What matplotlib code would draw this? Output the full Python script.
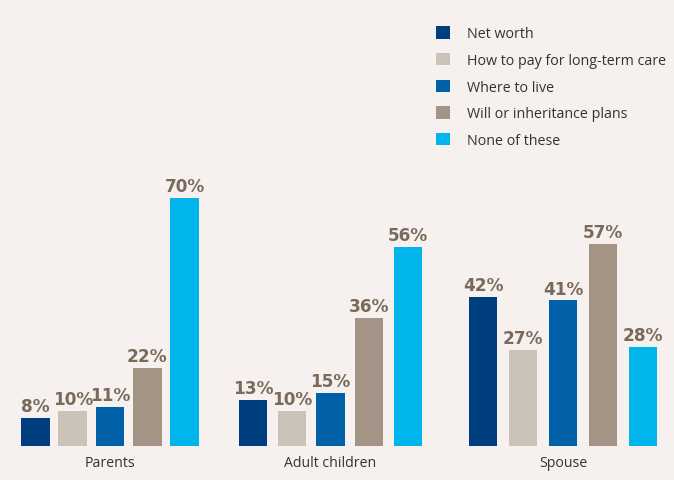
import matplotlib.pyplot as plt
from matplotlib.patches import Patch

plt.rcParams['font.family'] = ['Open Sans', 'DejaVu Sans']

groups = ['Parents', 'Adult children', 'Spouse']
topics = ['Net worth', 'How to pay for long-term care', 'Where to live',
          'Will or inheritance plans', 'None of these']
values = {
    'Net worth': [8, 13, 42],
    'How to pay for long-term care': [10, 10, 27],
    'Where to live': [11, 15, 41],
    'Will or inheritance plans': [22, 36, 57],
    'None of these': [70, 56, 28],
}
colors = ['#003f7f', '#cbc2b8', '#0060a8', '#a39486', '#00b5ec']

bg = '#f6f1ee'
label_color = '#7b6a5b'

# group centres and bar pitch, in pixels
group_centers = [110, 330.5, 563]
group_steps = [37.3, 38.7, 40]
width = 28.5

fig = plt.figure(figsize=(6.74, 4.81), dpi=100, facecolor=bg)
# y = 0 sits on the bar baseline; x runs in figure pixels
ax = fig.add_axes([0, 34 / 481, 1, 447 / 481])
ax.set_facecolor(bg)
ax.set_xlim(0, 674)
ax.set_ylim(0, 447 / 3.55)

for i, topic in enumerate(topics):
    xs = [c + (i - 2) * s for c, s in zip(group_centers, group_steps)]
    ax.bar(xs, values[topic], width=width, color=colors[i], label=topic)
    for x, v in zip(xs, values[topic]):
        ax.annotate(f'{v}%', (x, v), xytext=(0, 2), textcoords='offset points',
                    ha='center', va='bottom', fontsize=12.2, fontweight='bold',
                    family='DejaVu Sans', color=label_color)

for c, g in zip(group_centers, groups):
    ax.annotate(g, (c, 0), xytext=(0, -12), textcoords='offset points',
                ha='center', va='center', fontsize=10.2, color='#333333')

for s in ax.spines.values():
    s.set_visible(False)
ax.set_xticks([])
ax.set_yticks([])

handles = [Patch(facecolor=c) for c in colors]
fig.legend(handles, topics, loc='upper left', bbox_to_anchor=(432 / 674, 1 - 23 / 481),
           frameon=False, fontsize=10.3, handlelength=0.97, handleheight=0.97,
           handletextpad=1.2, labelspacing=0.8, labelcolor='#333333',
           borderaxespad=0, borderpad=0.3)

fig.savefig('out.png', dpi=100, facecolor=bg)
